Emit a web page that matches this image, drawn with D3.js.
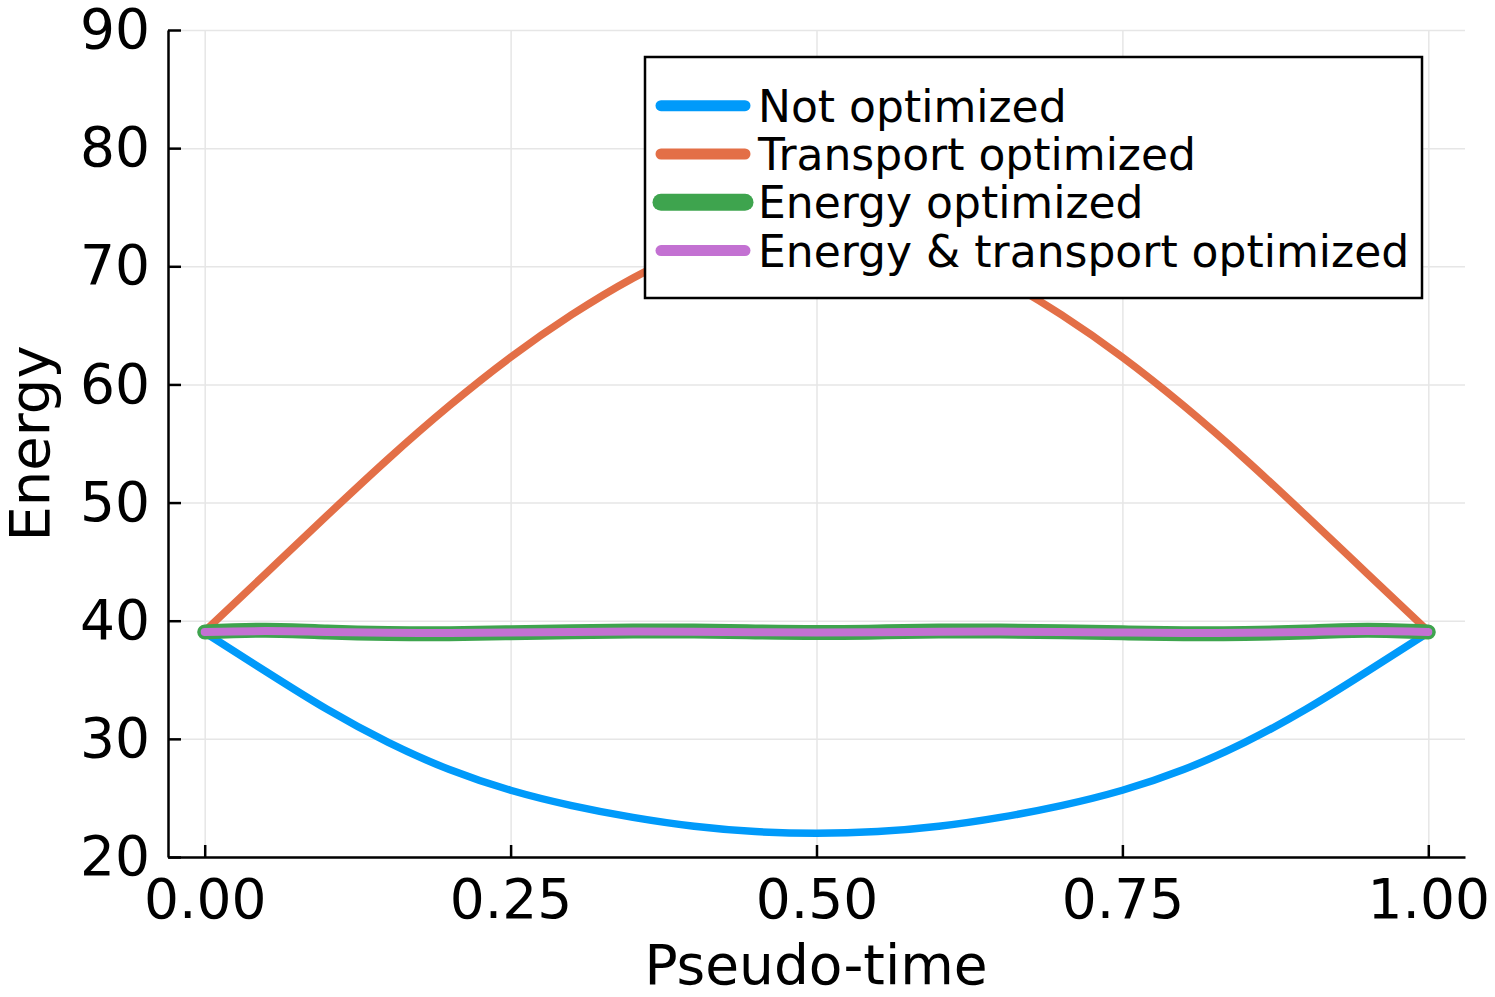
<!DOCTYPE html>
<html>
<head>
<meta charset="utf-8">
<title>Energy along pseudo-time</title>
<script src="https://d3js.org/d3.v7.min.js"></script>
<style>
  body { margin: 0; background: #fff; }
  text { font-family: "DejaVu Sans", sans-serif; }
</style>
</head>
<body>
<svg width="1495" height="997"></svg>
<script>
// data
var pseudoTime = [0, 0.05, 0.1, 0.15, 0.2, 0.25, 0.3, 0.35, 0.4, 0.45, 0.5,
                  0.55, 0.6, 0.65, 0.7, 0.75, 0.8, 0.85, 0.9, 0.95, 1];
var notOptimized = [39.0, 35.7, 32.5, 29.7, 27.4, 25.65, 24.35, 23.35, 22.6, 22.15, 22.0,
                    22.15, 22.6, 23.35, 24.35, 25.65, 27.4, 29.7, 32.5, 35.7, 39.0];
var transportOptimized = [39.1, 44.0, 48.9, 53.7, 58.2, 62.3, 65.9, 69.0, 71.4, 72.8, 73.3,
                          72.8, 71.4, 69.0, 65.9, 62.3, 58.2, 53.7, 48.9, 44.0, 39.1];
var energyOptimized = [39.05, 39.2, 39.05, 38.92, 38.9, 38.98, 39.07, 39.13, 39.12, 39.05, 39.0,
                       39.05, 39.12, 39.13, 39.07, 38.98, 38.9, 38.92, 39.05, 39.2, 39.05];
var energyTransportOptimized = [39.05, 39.12, 39.05, 38.98, 38.96, 39.0, 39.05, 39.08, 39.07, 39.03, 39.0,
                                39.03, 39.07, 39.08, 39.05, 39.0, 38.96, 38.98, 39.05, 39.12, 39.05];
var seriesNames = ['Not optimized', 'Transport optimized', 'Energy optimized', 'Energy & transport optimized'];
var xTicks = [0, 0.25, 0.5, 0.75, 1];
var yTicks = [20, 30, 40, 50, 60, 70, 80, 90];

var colors = ['#009afa', '#e36f47', '#3ea44e', '#c371d2'];
var widths = [7.5, 7.5, 15, 8];
var legendWidths = [11, 11, 17, 11];

var plotLeft = 168, plotRight = 1465, plotTop = 30, plotBottom = 857;

var xs = d3.scaleLinear().domain([-0.03, 1.03]).range([plotLeft, plotRight]);
var ys = d3.scaleLinear().domain([20, 90]).range([plotBottom, plotTop]);

var svg = d3.select('svg');

// grid lines
svg.append('g')
    .attr('transform', 'translate(0,' + plotBottom + ')')
    .call(d3.axisBottom(xs).tickValues(xTicks).tickSize(-(plotBottom - plotTop)).tickFormat(''))
    .call(function(g) { g.select('.domain').remove(); })
    .selectAll('line').attr('stroke', '#e6e6e6').attr('stroke-width', 1.5);

svg.append('g')
    .attr('transform', 'translate(' + plotLeft + ',0)')
    .call(d3.axisLeft(ys).tickValues(yTicks).tickSize(-(plotRight - plotLeft)).tickFormat(''))
    .call(function(g) { g.select('.domain').remove(); })
    .selectAll('line').attr('stroke', '#e6e6e6').attr('stroke-width', 1.5);

// series
var allSeries = [notOptimized, transportOptimized, energyOptimized, energyTransportOptimized];

var line = d3.line()
    .x(function(d, i) { return xs(pseudoTime[i]); })
    .y(function(d) { return ys(d); })
    .curve(d3.curveNatural);

svg.append('g')
    .attr('id', 'lines')
  .selectAll('path')
  .data(allSeries)
  .enter()
  .append('path')
    .attr('d', line)
    .attr('fill', 'none')
    .attr('stroke', function(d, i) { return colors[i]; })
    .attr('stroke-width', function(d, i) { return widths[i]; })
    .attr('stroke-linecap', 'round')
    .attr('stroke-linejoin', 'round');

// X axis
svg.append('g')
    .attr('id', 'xaxis')
    .attr('transform', 'translate(0,' + plotBottom + ')')
    .call(d3.axisBottom(xs).tickValues(xTicks).tickFormat(d3.format('.2f'))
        .tickSizeInner(-12).tickSizeOuter(0).tickPadding(22));

// Y axis
svg.append('g')
    .attr('id', 'yaxis')
    .attr('transform', 'translate(' + plotLeft + ',0)')
    .call(d3.axisLeft(ys).tickValues(yTicks).tickFormat(d3.format('d'))
        .tickSizeInner(-13).tickSizeOuter(0).tickPadding(18));

svg.selectAll('#xaxis, #yaxis')
    .call(function(g) {
      g.select('.domain').attr('stroke', '#000').attr('stroke-width', 2.5);
      g.selectAll('.tick line').attr('stroke', '#000').attr('stroke-width', 2.5);
      g.selectAll('.tick text')
        .attr('fill', '#000')
        .style('font-family', '"DejaVu Sans", sans-serif')
        .style('font-size', '55px');
    });

// axis labels
svg.append('text')
    .attr('x', (plotLeft + plotRight) / 2 - 0.5)
    .attr('y', 984)
    .style('text-anchor', 'middle')
    .style('font-size', '55px')
    .text('Pseudo-time');

svg.append('text')
    .attr('transform', 'rotate(-90)')
    .attr('x', -(plotTop + plotBottom) / 2)
    .attr('y', 49)
    .style('text-anchor', 'middle')
    .style('font-size', '56px')
    .text('Energy');

// legend
var legend = svg.append('g').attr('id', 'legend');

legend.append('rect')
    .attr('x', 645)
    .attr('y', 57)
    .attr('width', 777)
    .attr('height', 241)
    .attr('fill', '#fff')
    .attr('stroke', '#000')
    .attr('stroke-width', 2.5);

var entry = legend.selectAll('g.entry')
  .data(seriesNames)
  .enter()
  .append('g')
    .attr('class', 'entry')
    .attr('transform', function(d, i) { return 'translate(0,' + (105.7 + i * 48.3) + ')'; });

entry.append('line')
    .attr('x1', 661)
    .attr('x2', 745)
    .attr('stroke', function(d, i) { return colors[i]; })
    .attr('stroke-width', function(d, i) { return legendWidths[i]; })
    .attr('stroke-linecap', 'round');

entry.append('text')
    .attr('x', 758)
    .attr('y', 16)
    .style('font-size', '44px')
    .text(function(d) { return d; });
</script>
</body>
</html>
